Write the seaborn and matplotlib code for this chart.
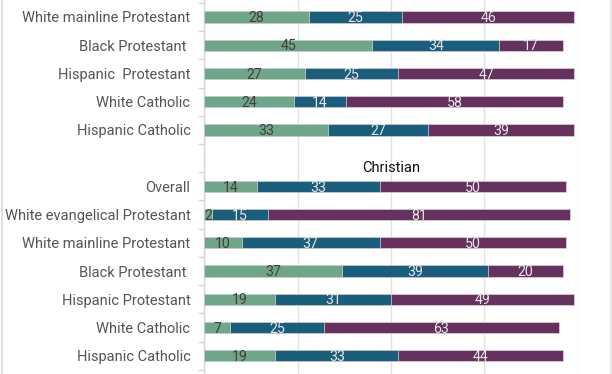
import numpy as np
import pandas as pd
import matplotlib
matplotlib.use('Agg')
import matplotlib.pyplot as plt
from matplotlib.lines import Line2D
import seaborn as sns

# ==============================
# Dados
# ==============================
grupos = ['White mainline Protestant', 'Black Protestant ', 'Hispanic  Protestant',
          'White Catholic', 'Hispanic Catholic', '',
          'Overall', 'White evangelical Protestant', 'White mainline Protestant',
          'Black Protestant ', 'Hispanic Protestant', 'White Catholic', 'Hispanic Catholic']
serie_1 = [28, 45, 27, 24, 33, None, 14, 2, 10, 37, 19, 7, 19]
serie_2 = [25, 34, 25, 14, 27, None, 33, 15, 37, 39, 31, 25, 33]
serie_3 = [46, 17, 47, 58, 39, None, 50, 81, 50, 20, 49, 63, 44]
titulo_secao = 'Christian'

cores = ['#6fa589', '#1a5d7d', '#66305f']
cores_texto = ['#404040', '#e6e6e6', '#e6e6e6']

# ==============================
# Preparação
# ==============================
chaves = [f'r{i}' for i in range(len(grupos))]
df = pd.DataFrame({'chave': chaves, 's1': serie_1, 's2': serie_2, 's3': serie_3}).dropna()
df['c1'] = df['s1']
df['c2'] = df['s1'] + df['s2']
df['c3'] = df['c2'] + df['s3']

# ==============================
# Gráfico
# ==============================
plt.rcParams['font.family'] = ['Roboto', 'DejaVu Sans']
fig = plt.figure(figsize=(6.12, 3.74), dpi=100)
ax = fig.add_axes([204.3 / 612, 0, 373.4 / 612, 1])

# barras empilhadas: cumulativos sobrepostos
for col, cor in zip(['c3', 'c2', 'c1'], cores[::-1]):
    sns.barplot(data=df, x=col, y='chave', order=chaves, orient='h', color=cor, saturation=1,
                width=0.4, edgecolor='#d8d8d8', linewidth=0.5, ax=ax, zorder=3)

# rótulos dos valores
pos = {k: i for i, k in enumerate(chaves)}
for _, r in df.iterrows():
    inicio = 0
    for v, ct in zip([r['s1'], r['s2'], r['s3']], cores_texto):
        ax.text(inicio + v / 2, pos[r['chave']] + 0.04, f'{int(v)}', ha='center', va='center',
                fontsize=10.2, color=ct, zorder=5)
        inicio += v

ax.text(50, 5.35, titulo_secao, ha='center', va='center', fontsize=10.5, color='#111111')

ax.set_xlim(0, 100)
ax.set_ylim(12.646, -0.602)
ax.set_xticks([0, 25, 50, 75, 100])
ax.tick_params(axis='x', length=0, labelbottom=False)
ax.grid(axis='x', color='#e2e2e2', linewidth=1, zorder=0)
ax.set_axisbelow(True)

ax.set_yticks(range(len(grupos)))
ax.set_yticklabels(grupos, fontsize=10.5, color='#555555')
ax.set_yticks(np.arange(-0.5, len(grupos) + 0.5, 1), minor=True)
ax.tick_params(axis='y', which='major', length=0, pad=10)
ax.tick_params(axis='y', which='minor', length=4, color='#d5d5d5', width=1)
ax.set_xlabel('')
ax.set_ylabel('')

for lado in ['top', 'right', 'bottom']:
    ax.spines[lado].set_visible(False)
ax.spines['left'].set_color('#d5d5d5')
ax.spines['left'].set_linewidth(1)

# moldura lateral
fig.add_artist(Line2D([1.5 / 612, 1.5 / 612], [0, 1], color='#e0e0e0', linewidth=1.5))
fig.add_artist(Line2D([610.5 / 612, 610.5 / 612], [0, 1], color='#e6e6e6', linewidth=1.5))

fig.savefig('out.png', dpi=100)
